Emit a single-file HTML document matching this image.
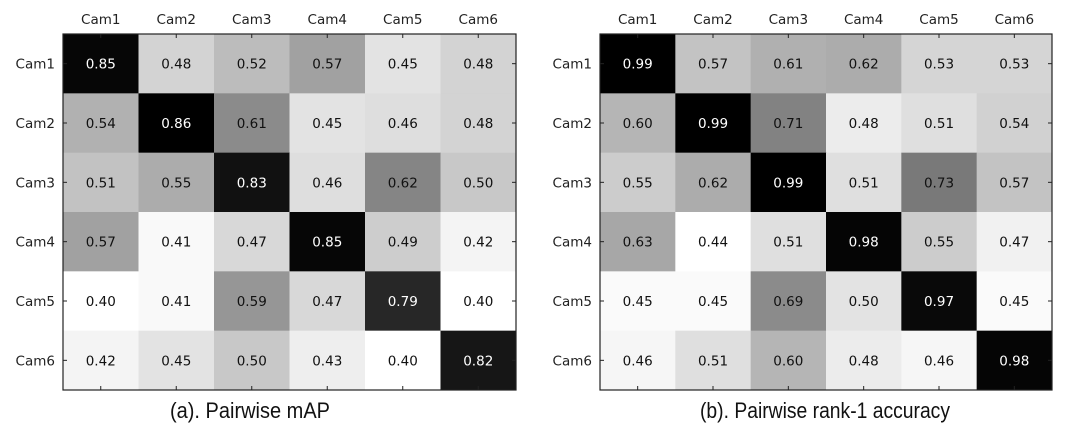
<!DOCTYPE html>
<html><head><meta charset="utf-8"><style>
html,body{margin:0;padding:0;background:#fff;}
svg{display:block;}
</style></head><body>
<svg id="s" width="1091" height="431" xmlns="http://www.w3.org/2000/svg" font-family="DejaVu Sans, sans-serif"></svg>
<script>
const A=[[0.85,0.48,0.52,0.57,0.45,0.48],[0.54,0.86,0.61,0.45,0.46,0.48],[0.51,0.55,0.83,0.46,0.62,0.50],[0.57,0.41,0.47,0.85,0.49,0.42],[0.40,0.41,0.59,0.47,0.79,0.40],[0.42,0.45,0.50,0.43,0.40,0.82]];
const B=[[0.99,0.57,0.61,0.62,0.53,0.53],[0.60,0.99,0.71,0.48,0.51,0.54],[0.55,0.62,0.99,0.51,0.73,0.57],[0.63,0.44,0.51,0.98,0.55,0.47],[0.45,0.45,0.69,0.50,0.97,0.45],[0.46,0.51,0.60,0.48,0.46,0.98]];
let h='';
function mat(M,x0,x1,min,max,title,tx,tw){
 const y0=34,y1=390,cw=(x1-x0)/6,ch=(y1-y0)/6;
 for(let r=0;r<6;r++)for(let c=0;c<6;c++){
  const v=M[r][c];let t=(v-min)/(max-min);t=Math.max(0,Math.min(1,t));
  const g=Math.round(255*(1-t));
  h+=`<rect x="${x0+c*cw}" y="${y0+r*ch}" width="${cw+0.5}" height="${ch+0.5}" fill="rgb(${g},${g},${g})"/>`;
  h+=`<text x="${x0+c*cw+cw/2}" y="${y0+r*ch+ch/2+5}" font-size="13.5" text-anchor="middle" fill="${g<110?'#fff':'#111'}">${v.toFixed(2)}</text>`;
 }
 h+=`<rect x="${x0}" y="${y0}" width="${x1-x0}" height="${y1-y0}" fill="none" stroke="#222" stroke-width="1.2"/>`;
 for(let i=0;i<6;i++){
  const cx=x0+i*cw+cw/2, cy=y0+i*ch+ch/2;
  h+=`<text x="${cx}" y="24" font-size="13.5" text-anchor="middle" fill="#222">Cam${i+1}</text>`;
  h+=`<text x="${x0-8}" y="${cy+5}" font-size="13.5" text-anchor="end" fill="#222">Cam${i+1}</text>`;
  h+=`<line x1="${cx}" y1="${y0}" x2="${cx}" y2="${y0+4}" stroke="#222"/><line x1="${cx}" y1="${y1}" x2="${cx}" y2="${y1-4}" stroke="#222"/>`;
  h+=`<line x1="${x0}" y1="${cy}" x2="${x0+4}" y2="${cy}" stroke="#222"/><line x1="${x1}" y1="${cy}" x2="${x1-4}" y2="${cy}" stroke="#222"/>`;
 }
 h+=`<text x="${tx}" y="418" font-size="22" textLength="${tw}" lengthAdjust="spacingAndGlyphs" fill="#111" font-family="Liberation Sans Narrow, Liberation Sans, sans-serif">${title}</text>`;
}
mat(A,63,516,0.40,0.86,'(a). Pairwise mAP',170,160);
mat(B,600,1052,0.44,0.99,'(b). Pairwise rank-1 accuracy',700,250);
document.getElementById('s').innerHTML=h;
</script>
</body></html>
